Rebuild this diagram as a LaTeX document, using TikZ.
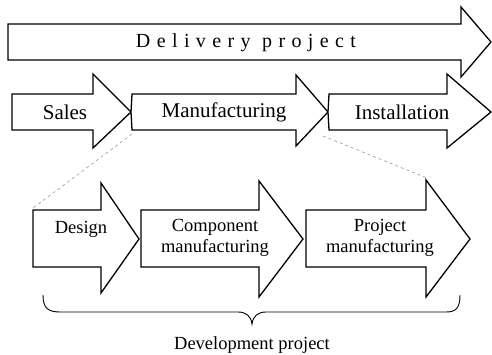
\documentclass[tikz,border=0pt]{standalone}
\usepackage{fontspec}
\setmainfont{Liberation Serif}
\newfontfamily\spacedfont[LetterSpace=32]{Liberation Serif}
\begin{document}
\begin{tikzpicture}[x=1pt,y=-1pt,
  arrowshape/.style={draw=black,line width=1.3pt,fill=white,line join=miter},
  guide/.style={draw=gray!80,line width=0.6pt,dash pattern=on 3pt off 3pt},
  bigtxt/.style={font=\fontsize{21}{24}\selectfont,inner sep=0pt},
  smalltxt/.style={font=\fontsize{18.5}{21}\selectfont,inner sep=0pt,align=center}]
\useasboundingbox (0,0) rectangle (492,355);
% Delivery project
\draw[arrowshape] (8,24) -- (461,24) -- (461,7) -- (491,42) -- (461,77) -- (461,60) -- (8,60) -- cycle;
\node[inner sep=0pt,font=\spacedfont\fontsize{20}{24}\selectfont] (delivery) at (246,43) {Delivery project};
% second row
\draw[arrowshape] (12,94) -- (93,94) -- (93,74) -- (131,112) -- (93,148) -- (93,130) -- (12,130) -- cycle;
\draw[arrowshape] (132,94) -- (296,94) -- (296,75) -- (328,112) -- (296,146) -- (296,130) -- (132,130) -- (131,112) -- cycle;
\draw[arrowshape] (329,94) -- (447,94) -- (447,74) -- (491,112) -- (447,148) -- (447,130) -- (329,130) -- (328,112) -- cycle;
\node[bigtxt] (sales) at (65,112) {Sales};
\node[bigtxt] (manu) at (224,112) {Manufacturing};
\node[bigtxt] (inst) at (402,112) {Installation};
% guide lines
\coordinate (gl1) at (132,134);
\coordinate (gl2) at (33,208);
\coordinate (gr1) at (323,136);
\coordinate (gr2) at (427,178);
\draw[guide] (gl1) -- (gl2);
\draw[guide] (gr1) -- (gr2);
% third row
\draw[arrowshape] (33,210) -- (101,210) -- (101,183) -- (139,239) -- (101,293) -- (101,267) -- (33,267) -- cycle;
\draw[arrowshape] (141,210) -- (259,210) -- (259,181) -- (303,239) -- (259,297) -- (259,267) -- (141,267) -- cycle;
\draw[arrowshape] (306,210) -- (426,210) -- (426,180) -- (470,239) -- (426,297) -- (426,267) -- (306,267) -- cycle;
\node[smalltxt] (design) at (81,229) {Design};
\node[smalltxt] (comp) at (215,238) {Component\\manufacturing};
\node[smalltxt] (proj) at (380,238) {Project\\manufacturing};
% brace
\draw[line width=0.9pt] (43,295) .. controls (43,308) and (48,312) .. (60,312) -- (238,312) .. controls (246,312) and (251,316) .. (252,324) .. controls (253,316) and (258,312) .. (266,312) -- (446,312) .. controls (456,312) and (460,308) .. (460,295);
\node[smalltxt] (dev) at (252,345) {Development project};
\end{tikzpicture}
\end{document}
